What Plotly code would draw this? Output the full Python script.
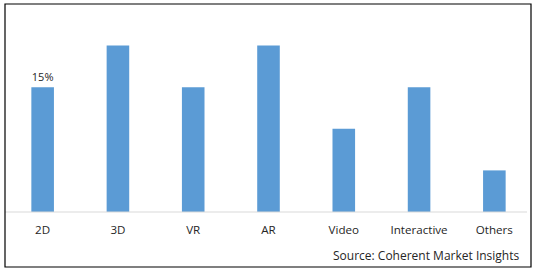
import plotly.graph_objects as go

categories = ["2D", "3D", "VR", "AR", "Video", "Interactive", "Others"]
values = [15, 20, 15, 20, 10, 15, 5]
labels = ["15%", "", "", "", "", "", ""]

W, H = 538, 272
L, R, T, B = 5, 6, 4, 60  # plot area 5..532 x, 4..212 y
pw = W - L - R
ph = H - T - B

fig = go.Figure(go.Bar(
    x=categories, y=values, text=labels, textposition="outside",
    textfont=dict(family="Open Sans", size=11, color="#262626"),
    marker=dict(color="#5b9bd5", line=dict(width=0)),
    width=0.3, cliponaxis=False,
))

fig.update_layout(
    width=W, height=H, margin=dict(l=L, r=R, t=T, b=B),
    paper_bgcolor="white", plot_bgcolor="white", showlegend=False,
    font=dict(family="Open Sans", size=11, color="#262626"),
    xaxis=dict(showgrid=False, showline=False,
               ticks="", ticklabelstandoff=9, tickfont=dict(size=11.6, color="#262626")),
    yaxis=dict(range=[0, 25], visible=False, showgrid=False, zeroline=False),
)

# baseline
fig.add_shape(type="line", xref="paper", yref="paper",
              x0=0, x1=(527 - L) / pw, y0=0, y1=0,
              line=dict(color="#d9d9d9", width=1))

# outer border
fig.add_shape(type="rect", xref="paper", yref="paper",
              x0=0, x1=(531 - L) / pw, y0=(212 - 267) / ph, y1=1,
              line=dict(color="black", width=1.2), fillcolor="rgba(0,0,0,0)")

fig.add_annotation(text="Source: Coherent Market Insights", xref="paper", yref="paper",
                   x=(522 - L) / pw, y=(212 - 256) / ph, xanchor="right", yanchor="middle",
                   showarrow=False, font=dict(family="Open Sans", size=12, color="#262626"))

fig.write_html("out.html")
